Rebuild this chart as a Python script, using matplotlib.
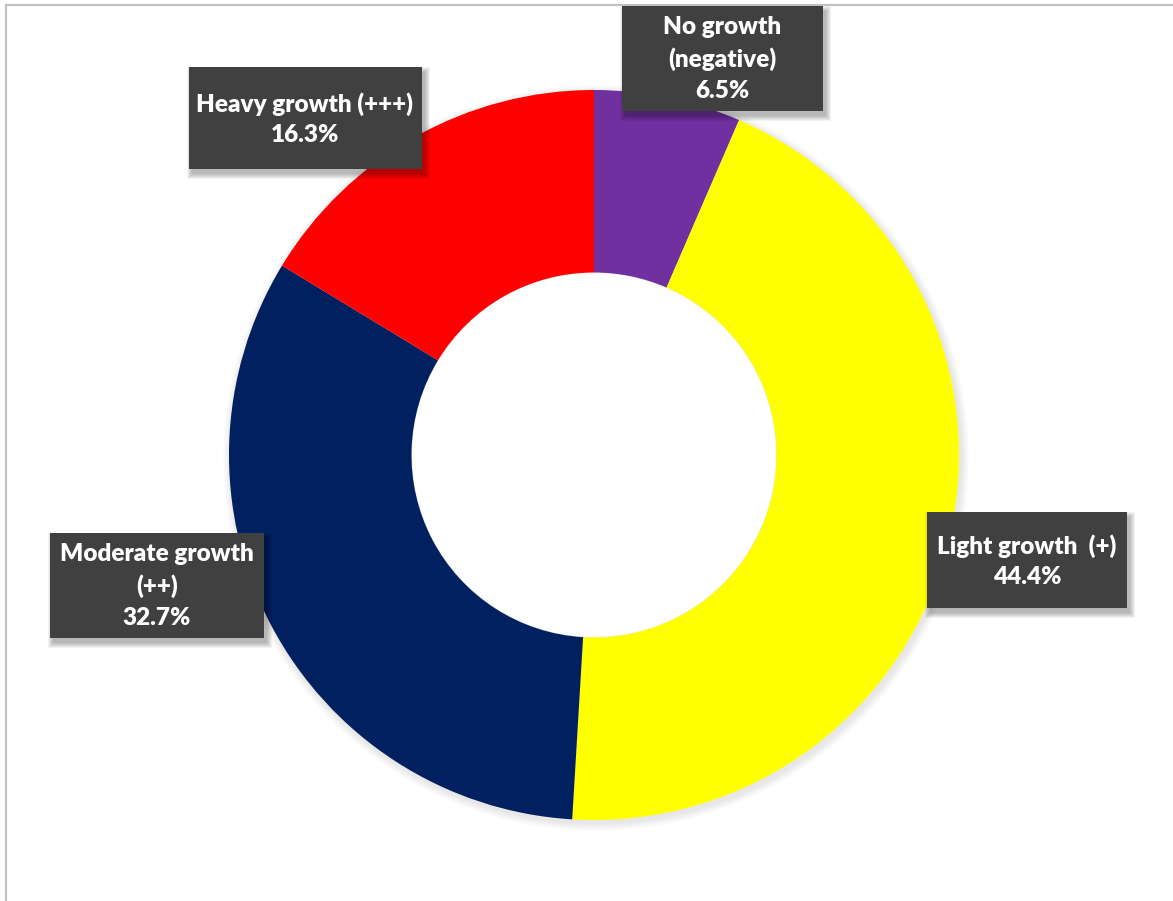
import matplotlib.pyplot as plt
from matplotlib.patches import Rectangle, Circle
import matplotlib as mpl

mpl.rcParams['font.family'] = ['Lato', 'DejaVu Sans']
mpl.rcParams['hatch.color'] = '#545454'
mpl.rcParams['hatch.linewidth'] = 1.0

labels = ["No growth\n(negative)", "Light growth  (+)", "Moderate growth\n(++)", "Heavy growth (+++)"]
values = [6.5, 44.4, 32.7, 16.3]
colors = ["#7030a0", "#ffff00", "#002060", "#ff0000"]

# label box centres and sizes in pixels (top-left origin)
box_pos = [(722, 58), (1027, 560), (157, 585), (305, 118)]
box_size = [(201, 105), (200, 96), (214, 105), (233, 102)]

W, H = 1173, 901
fig = plt.figure(figsize=(W / 100, H / 100), dpi=100)
ax = fig.add_axes([0, 0, 1, 1])

cx, cy, r = 594, H - 455, 365

# soft shadow behind ring
for i in range(8):
    ax.add_patch(Circle((cx + 2, cy - 3), r + 8 - i, color='black', alpha=0.012, lw=0, zorder=0))

ax.pie(values, colors=colors, startangle=90, counterclock=False,
       center=(cx, cy), radius=r, wedgeprops=dict(width=r * 0.5, linewidth=0),
       frame=True)
ax.add_patch(Circle((cx, cy), r * 0.5 - 0.5, color='white', lw=0, zorder=0.5))
ax.set_xlim(0, W)
ax.set_ylim(0, H)
ax.set_aspect('equal')
ax.axis('off')

# frame lines
ax.plot([6, W], [H - 5, H - 5], color='#c0c0c0', lw=1.5, zorder=1)
ax.plot([6, 6], [H - 5, 0], color='#c0c0c0', lw=1.5, zorder=1)

for lab, v, (bx, by), (bw, bh) in zip(labels, values, box_pos, box_size):
    y = H - by
    for i in range(6):
        ax.add_patch(Rectangle((bx - bw / 2 + 3 - i, y - bh / 2 - 5 - i), bw + 2 * i, bh + 2 * i,
                               color='black', alpha=0.05, lw=0, zorder=4))
    ax.add_patch(Rectangle((bx - bw / 2, y - bh / 2), bw, bh, facecolor='#404040',
                           edgecolor='#404040', hatch='..', lw=0, zorder=5))
    ax.text(bx, y - 1, f"{lab}\n{v:.1f}%", ha='center', va='center', color='white',
            fontsize=17.5, fontweight='heavy', linespacing=1.47, zorder=6)

fig.savefig("out.png", dpi=100)
